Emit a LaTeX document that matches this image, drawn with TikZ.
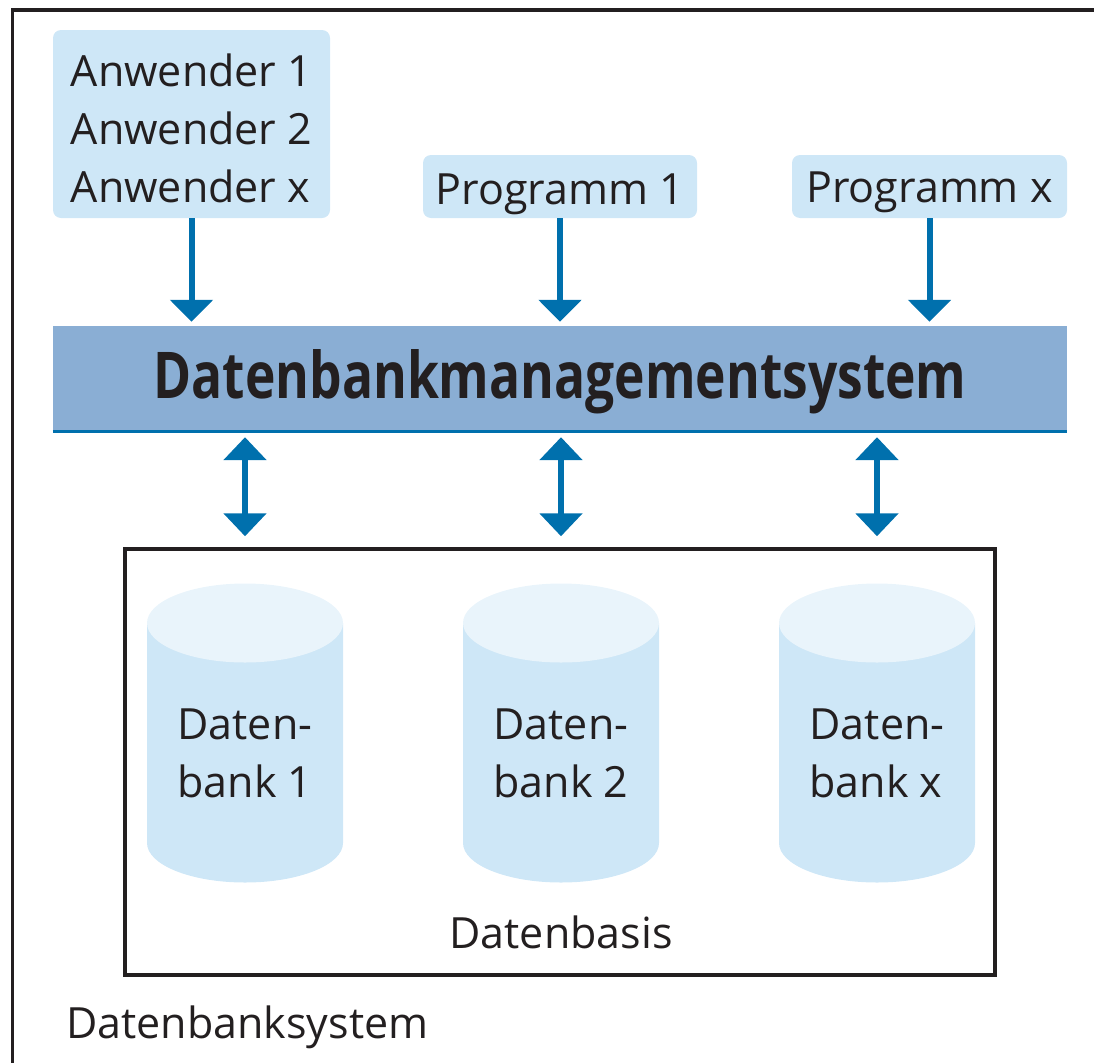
\documentclass[tikz,border=0pt]{standalone}
\usepackage{fontspec}
\usepackage{graphicx}
\setmainfont{Open Sans}
\usetikzlibrary{arrows.meta}

\definecolor{ink}{HTML}{231F20}
\definecolor{paleblue}{HTML}{CEE7F7}
\definecolor{paletop}{HTML}{E9F4FB}
\definecolor{dbmsblue}{HTML}{8AAED4}
\definecolor{arrowblue}{HTML}{0070AD}

\begin{document}
\begin{tikzpicture}[x=1pt,y=-1pt,
  txt/.style={font=\fontsize{43}{58}\selectfont, text=ink, inner sep=0pt},
  ubox/.style={txt, fill=paleblue, rounded corners=8pt},
  arr/.style={draw=arrowblue, line width=6pt, -{Triangle[width=42pt,length=22pt]}},
  darr/.style={draw=arrowblue, line width=6pt,
    {Triangle[width=42pt,length=23pt]}-{Triangle[width=42pt,length=23pt]}},
  cylbody/.style={fill=paleblue},
  cyltop/.style={fill=paletop},
  frame/.style={draw=ink, line width=3.5pt}
]
\useasboundingbox (0,0) rectangle (1094,1063);

% outer frame of the database system
\draw[frame] (1094,10) -| (12.5,1063);

% users and programs
\node[ubox, align=left, minimum width=277pt, text height=172pt, text depth=16pt]
  (anw) at (191.5,124) {Anwender 1\\Anwender 2\\Anwender x};
\node[ubox, minimum width=274pt, text height=49pt, text depth=14pt]
  (prog1) at (560,186.5) {Programm 1};
\node[ubox, minimum width=275pt, text height=47pt, text depth=16pt]
  (progx) at (929.5,186.5) {Programm x};

% DBMS bar
\node[txt, fill=dbmsblue, minimum width=1014pt, text height=72pt, text depth=35pt]
  (dbms) at (560,379.5)
  {\resizebox{813pt}{49pt}{\bfseries Datenbankmanagementsystem}};
\draw[arrowblue, line width=3.5pt]
  ([yshift=1.75pt]dbms.south west) -- ([yshift=1.75pt]dbms.south east);

% requests into the DBMS
\foreach \src in {anw,prog1,progx}
  \draw[arr] (\src.south) -- ([yshift=4pt]\src.south |- dbms.north);

% data basis frame
\node[draw=ink, line width=3.5pt, minimum width=870pt, minimum height=426pt, inner sep=0pt]
  (basis) at (560,762) {};

% databases as cylinders
\foreach \cx/\name/\num in {245/db1/1, 561/db2/2, 877/dbx/x}{
  \fill[cylbody] (\cx-98,623) -- (\cx-98,843)
    arc[start angle=180, end angle=0, x radius=98, y radius=39.5]
    -- (\cx+98,623) -- cycle;
  \fill[cyltop] (\cx,623) ellipse[x radius=98, y radius=39.5];
  \node[txt, align=left, anchor=base] (\name) at (\cx,797) {Daten-\\bank \num};
}

% links between DBMS and databases
\foreach \db in {db1,db2,dbx}
  \draw[darr] ([yshift=-4pt]dbms.south -| \db) -- ([yshift=11pt]basis.north -| \db);

\node[txt, anchor=base] (basislbl) at (561,948) {Datenbasis};
\node[txt, anchor=base west] (syslbl) at (66,1038) {Datenbanksystem};
\end{tikzpicture}
\end{document}
